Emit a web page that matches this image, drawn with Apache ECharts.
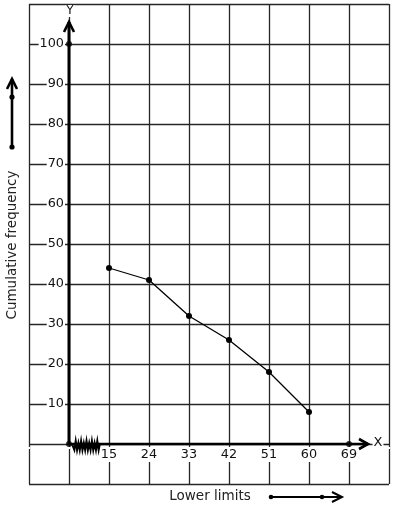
<!DOCTYPE html>
<html>
<head>
<meta charset="utf-8">
<script src="https://cdn.jsdelivr.net/npm/echarts@6/dist/echarts.min.js"></script>
<style>
html,body{margin:0;padding:0;background:#fff;}
#chart{width:394px;height:510px;}
</style>
</head>
<body>
<div id="chart"></div>
<script>
// ---- data ----
var xTickLabels = ['', '', '15', '24', '33', '42', '51', '60', '69', ''];
var lowerLimits = ['15', '24', '33', '42', '51', '60'];
var cumFreq = [44, 41, 32, 26, 18, 8];
var yTickLabels = [10, 20, 30, 40, 50, 60, 70, 80, 90, 100];
var axisDots = [[1, 0], [1, 100], [8, 0]];

var FONT = 'DejaVu Sans';
var chart = echarts.init(document.getElementById('chart'), null, {renderer: 'canvas'});

var gridLine = {show: true, lineStyle: {color: '#262626', width: 1.3}};
function yFmt(v) { return yTickLabels.indexOf(v) >= 0 ? String(v) : ''; }

var option = {
  backgroundColor: '#fff',
  animation: false,
  grid: {left: 29, right: 5, top: 4, bottom: 26, containLabel: false},
  xAxis: [
    {type: 'category', data: xTickLabels, boundaryGap: false, z: 0,
     axisLine: {show: false}, axisTick: {show: false}, axisLabel: {show: false},
     splitLine: gridLine},
    {type: 'category', data: xTickLabels, boundaryGap: false, z: 5, position: 'bottom',
     axisLine: {show: false}, axisTick: {show: false}, splitLine: {show: false},
     axisLabel: {show: true, interval: 0, margin: -37, fontFamily: FONT, fontSize: 12.8,
       color: '#111', backgroundColor: '#fff', padding: [1, 1, 1, 1],
       formatter: function (v) { return v; }}}
  ],
  yAxis: [
    {type: 'value', min: -10, max: 110, interval: 10, z: 0,
     axisLine: {show: false}, axisTick: {show: false}, axisLabel: {show: false},
     splitLine: gridLine},
    {type: 'value', min: -10, max: 110, interval: 10, z: 5, position: 'left',
     axisLine: {show: false}, axisTick: {show: false}, splitLine: {show: false},
     axisLabel: {show: true, margin: -36, fontFamily: FONT, fontSize: 12.8, color: '#111',
       backgroundColor: '#fff', padding: [0, 1, 0, 1], formatter: yFmt}}
  ],
  series: [
    {type: 'line', xAxisIndex: 0, yAxisIndex: 0, z: 6,
     data: lowerLimits.map(function (l, i) { return [l, cumFreq[i]]; }),
     symbol: 'circle', symbolSize: 6, showSymbol: true,
     lineStyle: {color: '#000', width: 1.3}, itemStyle: {color: '#000'}},
    {type: 'scatter', xAxisIndex: 0, yAxisIndex: 0, z: 12,
     data: axisDots, symbol: 'circle', symbolSize: 6, itemStyle: {color: '#000'}}
  ]
};
chart.setOption(option);

// ---- decorations computed from the axes ----
var o = chart.convertToPixel({xAxisIndex: 0, yAxisIndex: 0}, [1, 0]);
var ox = o[0], oy = o[1];
var p8 = chart.convertToPixel({xAxisIndex: 0}, 8);
var p9 = chart.convertToPixel({xAxisIndex: 0}, 9);
var xEnd = p8 + 0.475 * (p9 - p8);
var yTop = chart.convertToPixel({yAxisIndex: 0}, 105.5);
var yTopGrid = chart.convertToPixel({yAxisIndex: 0}, 110);

var zig = [[ox + 3, oy]];
for (var i = 0; i < 5; i++) {
  var bx = ox + 4 + i * 5.4;
  zig.push([bx + 1.35, oy + 6]);
  zig.push([bx + 2.7, oy - 3]);
  zig.push([bx + 4.05, oy + 6]);
  zig.push([bx + 5.4, oy - 1]);
}

var blk = {stroke: '#000', fill: null, lineWidth: 2.6};
var graphics = [
  // y axis line + arrow
  {type: 'polyline', z: 10, shape: {points: [[ox, oy], [ox, yTop]]}, style: {stroke: '#000', lineWidth: 3}},
  {type: 'polyline', z: 10, shape: {points: [[ox - 5, yTop + 10], [ox, yTop], [ox + 5, yTop + 10]]}, style: blk},
  // x axis line + arrow
  {type: 'polyline', z: 10, shape: {points: [[ox, oy], [xEnd, oy]]}, style: {stroke: '#000', lineWidth: 2.6}},
  {type: 'polyline', z: 10, shape: {points: [[xEnd - 9, oy - 5], [xEnd, oy], [xEnd - 9, oy + 5]]}, style: blk},
  // zigzag (axis break)
  {type: 'polyline', z: 10, shape: {points: zig}, style: {stroke: '#000', fill: null, lineWidth: 2}},
  // axis letters
  {type: 'text', z: 10, x: ox + 1, y: yTopGrid + 7, style: {text: 'Y', font: '12px "' + FONT + '"', fill: '#111',
    align: 'center', verticalAlign: 'middle', backgroundColor: '#fff', padding: [0, 1]}},
  {type: 'text', z: 10, x: xEnd + 10, y: oy - 1, style: {text: 'X', font: '13px "' + FONT + '"', fill: '#111',
    align: 'center', verticalAlign: 'middle', backgroundColor: '#fff', padding: [0, 1]}},
  // titles
  {type: 'text', z: 10, x: 12, y: 245, rotation: Math.PI / 2, style: {text: 'Cumulative frequency',
    font: '13.5px "' + FONT + '"', fill: '#222', align: 'center', verticalAlign: 'middle'}},
  {type: 'text', z: 10, x: 210, y: 496, style: {text: 'Lower limits',
    font: '13.5px "' + FONT + '"', fill: '#222', align: 'center', verticalAlign: 'middle'}},
  // left decorative arrow
  {type: 'polyline', z: 10, shape: {points: [[12, 147], [12, 79]]}, style: {stroke: '#000', lineWidth: 2.6}},
  {type: 'polyline', z: 10, shape: {points: [[7, 89], [12, 79], [17, 89]]}, style: blk},
  {type: 'circle', z: 10, shape: {cx: 12, cy: 97, r: 2.6}, style: {fill: '#000'}},
  {type: 'circle', z: 10, shape: {cx: 12, cy: 147, r: 2.6}, style: {fill: '#000'}},
  // bottom decorative arrow
  {type: 'polyline', z: 10, shape: {points: [[271, 497], [340, 497]]}, style: {stroke: '#000', lineWidth: 2}},
  {type: 'polyline', z: 10, shape: {points: [[332, 492], [342, 497], [332, 502]]}, style: {stroke: '#000', fill: null, lineWidth: 2}},
  {type: 'circle', z: 10, shape: {cx: 271, cy: 497, r: 2.3}, style: {fill: '#000'}},
  {type: 'circle', z: 10, shape: {cx: 322, cy: 497, r: 2.3}, style: {fill: '#000'}}
];
chart.setOption({graphic: graphics});
</script>
</body>
</html>
